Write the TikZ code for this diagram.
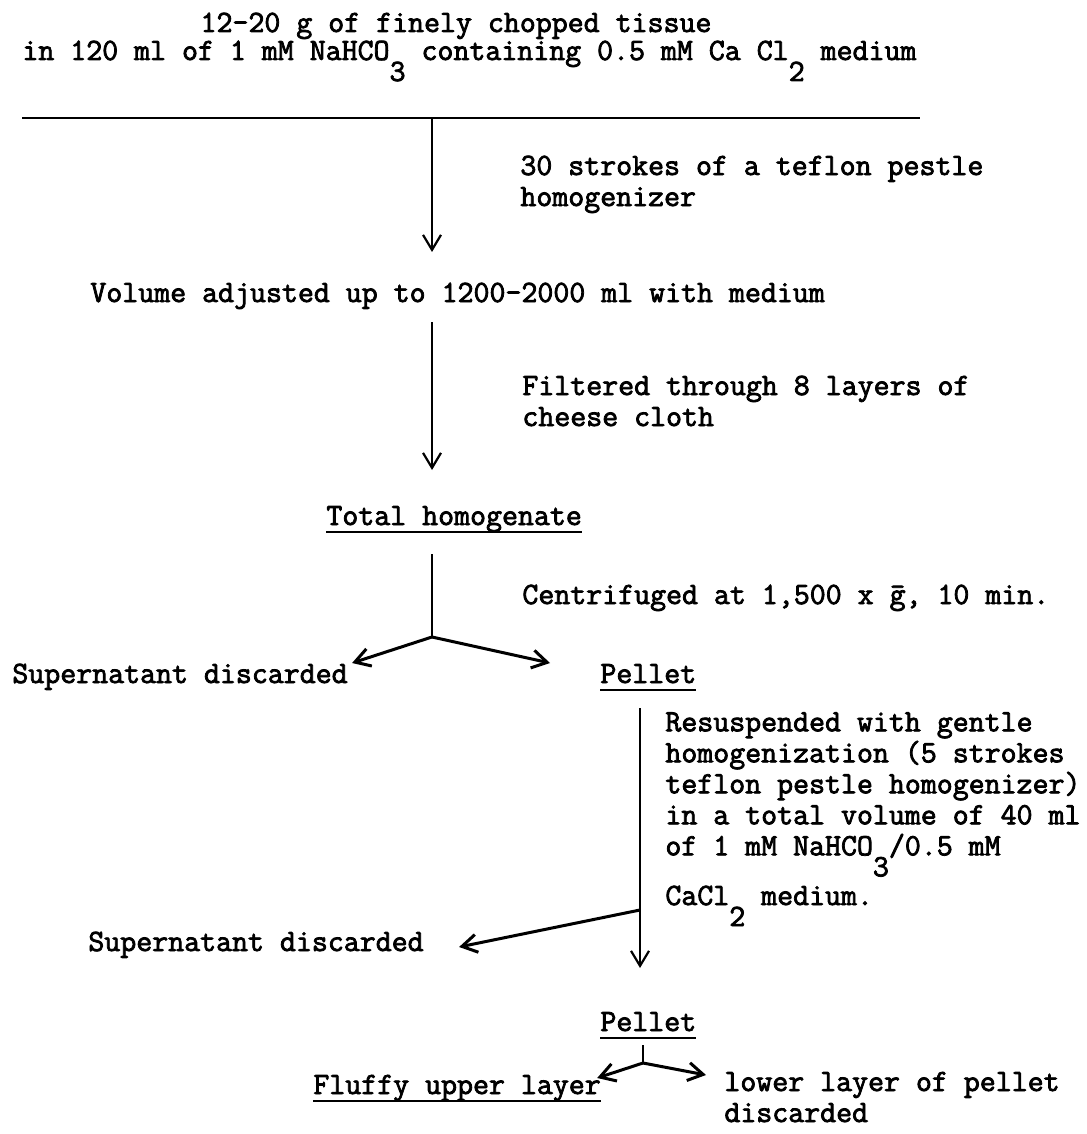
\documentclass[tikz,border=0pt]{standalone}
\usepackage{fontspec}
\newfontfamily\typer{Latin Modern Mono}[FakeBold=2.5]
\usetikzlibrary{arrows.meta}
\newcommand{\lowsub}[1]{\raisebox{-10.5pt}{#1}}
\newcommand{\undl}[1]{\setbox0=\hbox{#1}\rlap{\rule[-4pt]{\wd0}{0.8pt}}\box0}

\begin{document}
\begin{tikzpicture}[x=0.5pt,y=-0.5pt,>={Straight Barb[length=7.5pt,width=9pt]},
  txt/.style={inner sep=0pt,anchor=base west,align=left,font=\typer\fontsize{15.5}{15.5}\selectfont},
  stemline/.style={line width=1.1pt},
  flow/.style={->,stemline},
  fork/.style={->,line width=1.5pt}]
\useasboundingbox (0,0) rectangle (1086,1134);
% starting material
\node[txt,anchor=base] (tissue) at (456,32) {12-20 g of finely chopped tissue};
\node[txt] (medium) at (22,60) {in 120 ml of 1 mM NaHCO\lowsub{3} containing 0.5 mM Ca Cl\lowsub{2} medium};
\coordinate (ruleL) at (22,118);
\coordinate (ruleR) at (920,118);
\coordinate (stem1) at (432,118);
\draw[stemline] (ruleL) -- (ruleR);
% homogenizing and filtering (base = last line)
\node[txt] (strokes) at (520,206) {30 strokes of a teflon pestle\\homogenizer};
\node[txt] (volume) at (90,302) {Volume adjusted up to 1200-2000 ml with medium};
\node[txt] (filter) at (522,426) {Filtered through 8 layers of\\cheese cloth};
\node[txt] (total) at (326,525) {\undl{Total homogenate}};
\draw[flow] (stem1) -- ([yshift=25pt]volume.base -| stem1);
\draw[flow] ([yshift=-10pt]volume.base -| stem1) -- ([yshift=27.5pt]total.base -| stem1);
% first spin
\node[txt] (spin) at (522,604) {Centrifuged at 1,500 x \={g}, 10 min.};
\node[txt] (super1) at (12,683) {Supernatant discarded};
\node[txt] (pellet1) at (600,683) {\undl{Pellet}};
\coordinate (split1) at ([yshift=-56pt]total.base -| stem1);
\draw[stemline] ([yshift=-14.5pt]total.base -| stem1) -- (split1);
\draw[fork] (split1) -- ([xshift=2pt,yshift=10pt]super1.base east);
\draw[fork] (split1) -- ([xshift=-25pt,yshift=10pt]pellet1.base west);
% washing
\node[txt] (resusp) at (665,905) {Resuspended with gentle\\homogenization (5 strokes\\teflon pestle homogenizer)\\in a total volume of 40 ml\\of 1 mM NaHCO\lowsub{3}/0.5 mM\\[3.5pt]CaCl\lowsub{2} medium.};
\node[txt] (super2) at (88,951) {Supernatant discarded};
\node[txt] (pellet2) at (600,1031) {\undl{Pellet}};
\coordinate (stem2) at (640,708);
\coordinate (split2) at (640,910);
\draw[flow] (stem2) -- ([yshift=31.5pt]pellet2.base -| stem2);
\draw[fork] (split2) -- ([xshift=17.5pt,yshift=2pt]super2.base east);
% layers of the pellet
\node[txt] (fluffy) at (313,1094) {\undl{Fluffy upper layer}};
\node[txt] (lower) at (724,1122) {lower layer of pellet\\discarded};
\coordinate (split3) at (643,1063);
\draw[stemline] ([yshift=-7pt]pellet2.base -| split3) -- (split3);
\draw[fork] (split3) -- ([xshift=-2pt,yshift=8pt]fluffy.base east);
\draw[fork] (split3) -- ([xshift=-9pt,yshift=23.5pt]lower.base west);
\end{tikzpicture}
\end{document}
